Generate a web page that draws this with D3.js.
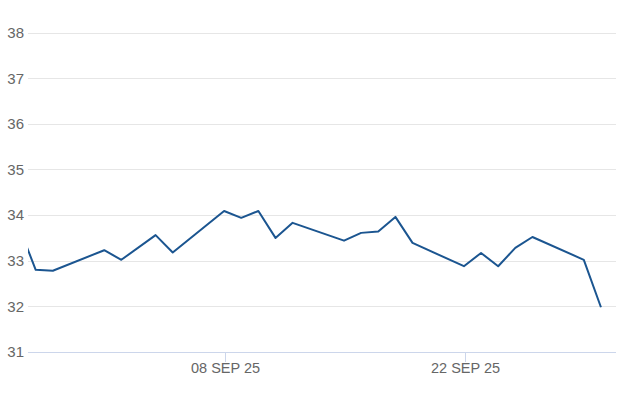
<!DOCTYPE html>
<html>
<head>
<meta charset="utf-8">
<script src="https://cdn.jsdelivr.net/npm/d3@7"></script>
<style>
  html, body { margin: 0; padding: 0; background: #fff; }
  svg { display: block; font-family: "Liberation Sans", Arial, sans-serif; }
</style>
</head>
<body>
<div id="chart"></div>
<script>
(function() {
  var dates, values, yTicks, xTicks, width, height, parse, x, y, svg, line, data, xt;

  dates = ["2025-08-27", "2025-08-28", "2025-08-29", "2025-09-01", "2025-09-02", "2025-09-04",
           "2025-09-05", "2025-09-08", "2025-09-09", "2025-09-10", "2025-09-11", "2025-09-12",
           "2025-09-15", "2025-09-16", "2025-09-17", "2025-09-18", "2025-09-19", "2025-09-22",
           "2025-09-23", "2025-09-24", "2025-09-25", "2025-09-26", "2025-09-29", "2025-09-30"];

  values = [33.77, 32.80, 32.78, 33.23, 33.02, 33.56,
            33.18, 34.09, 33.94, 34.09, 33.50, 33.83,
            33.44, 33.61, 33.64, 33.96, 33.39, 32.88,
            33.17, 32.88, 33.28, 33.52, 33.02, 31.98];

  yTicks = [31, 32, 33, 34, 35, 36, 37, 38];
  xTicks = ["2025-09-08", "2025-09-22"];

  width = 626;
  height = 417;

  parse = function(s) { return new Date(s + "T00:00:00Z"); };

  data = dates.map(function(d, i) { return { date: parse(d), value: values[i] }; });

  x = d3.scaleUtc()
    .domain([new Date("2025-08-27T13:13:00Z"), new Date("2025-09-30T21:06:00Z")])
    .range([28, 616]);

  y = d3.scaleLinear().domain([31, 38]).range([352, 32.5]);

  svg = d3.select("#chart").append("svg")
    .attr("width", width)
    .attr("height", height);

  // horizontal grid
  svg.append("g").selectAll("line").data(yTicks).enter().append("line")
    .attr("x1", 28).attr("x2", 616)
    .attr("y1", function(d) { return Math.round(y(d)) + 0.5; })
    .attr("y2", function(d) { return Math.round(y(d)) + 0.5; })
    .style("stroke", function(d) { return d === 31 ? "#ccd6eb" : "#e6e6e6"; })
    .style("stroke-width", 1);

  // y labels
  svg.append("g").selectAll("text").data(yTicks).enter().append("text")
    .attr("x", 24)
    .attr("y", function(d) { return y(d); })
    .attr("dy", "0.36em")
    .attr("text-anchor", "end")
    .style("font-size", "15px")
    .style("fill", "#666")
    .text(function(d) { return d; });

  // x axis ticks
  xt = svg.append("g").selectAll("g").data(xTicks.map(parse)).enter().append("g")
    .attr("transform", function(d) { return "translate(" + (Math.round(x(d)) + 1.5) + ",0)"; });

  xt.append("line")
    .attr("y1", 352).attr("y2", 362)
    .style("stroke", "#ccd6eb");

  xt.append("text")
    .attr("y", 373)
    .attr("text-anchor", "middle")
    .style("font-size", "14.5px")
    .style("fill", "#666")
    .text(function(d) { return d3.utcFormat("%d %b %y")(d).toUpperCase(); });

  svg.append("clipPath").attr("id", "plot-clip")
    .append("rect").attr("x", 28).attr("y", 0).attr("width", 588).attr("height", 360);

  line = d3.line()
    .x(function(d) { return x(d.date); })
    .y(function(d) { return y(d.value); });

  svg.append("path")
    .datum(data)
    .attr("clip-path", "url(#plot-clip)")
    .attr("d", line)
    .style("fill", "none")
    .style("stroke", "#1b5590")
    .style("stroke-width", 2)
    .style("stroke-linejoin", "round");
})();
</script>
</body>
</html>
